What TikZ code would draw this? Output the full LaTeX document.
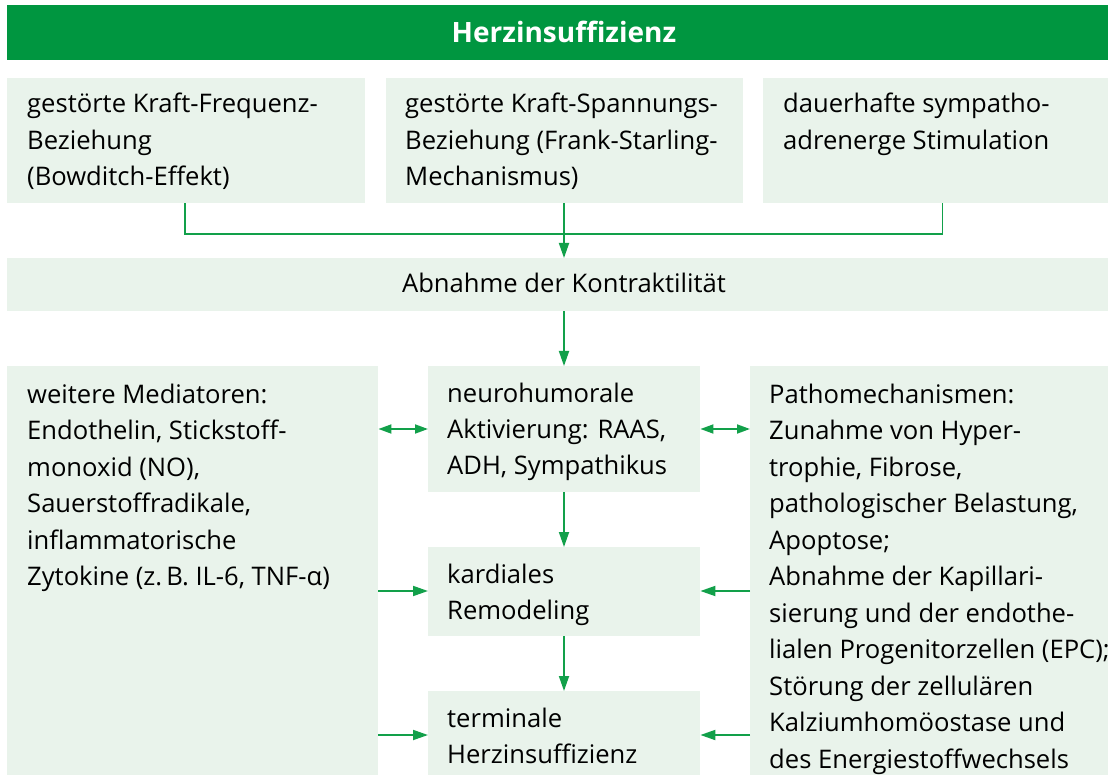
\documentclass[tikz,border=0pt]{standalone}
\usepackage{fontspec}
\setmainfont{Open Sans}
\usetikzlibrary{arrows.meta}
\definecolor{hgreen}{HTML}{009640}
\definecolor{agreen}{HTML}{12A04A}
\definecolor{boxfill}{HTML}{E9F3EB}
\begin{document}
\begin{tikzpicture}[x=1pt,y=-1pt,
  panel/.style={fill=boxfill, draw=none, inner sep=0, anchor=north west},
  txt/.style={anchor=base west, inner sep=0, font=\fontsize{25.6}{36.5}\selectfont},
  link/.style={draw=agreen, line width=1.8pt},
  arr/.style={link, -{Triangle[length=15pt,width=10pt]}},
  darr/.style={link, {Triangle[length=13pt,width=9pt]}-{Triangle[length=13pt,width=9pt]}}]
\useasboundingbox (0,0) rectangle (1108,775);

% title bar
\node[panel, fill=hgreen, minimum width=1101pt, minimum height=55pt] (title) at (7,5) {};
\node[anchor=center, inner sep=0, text=white, font=\fontsize{28}{30}\selectfont\bfseries] (titletxt) at (564,32) {Herzinsuffizienz};

% top row
\node[panel, minimum width=358pt, minimum height=125pt] (b1) at (7,78) {};
\node[panel, minimum width=357pt, minimum height=125pt] (b2) at (386,78) {};
\node[panel, minimum width=345pt, minimum height=125pt] (b3) at (763,78) {};
\node[txt] (t1) at (27,113) {\parbox[t]{340pt}{\raggedright gestörte Kraft-Frequenz-\\Beziehung\\(Bowditch-Effekt)}};
\node[txt] (t2) at (405,113) {\parbox[t]{340pt}{\raggedright gestörte Kraft-Spannungs-\\Beziehung (Frank-Starling-\\Mechanismus)}};
\node[txt] (t3) at (783,113) {\parbox[t]{320pt}{\raggedright dauerhafte sympatho-\\adrenerge Stimulation}};

% contractility
\node[panel, minimum width=1101pt, minimum height=53pt] (ab) at (7,258) {};
\node[anchor=base, inner sep=0, font=\fontsize{25.6}{36.5}\selectfont] (abtxt) at (564,293) {Abnahme der Kontraktilität};

% lower block
\node[panel, minimum width=371pt, minimum height=409pt] (med) at (7,366) {};
\node[panel, minimum width=272pt, minimum height=126pt] (neuro) at (428,366) {};
\node[panel, minimum width=272pt, minimum height=89pt] (remo) at (428,547) {};
\node[panel, minimum width=272pt, minimum height=84pt] (term) at (428,691) {};
\node[panel, minimum width=358pt, minimum height=409pt] (patho) at (750,366) {};

\node[txt] (tmed) at (27,403) {\parbox[t]{350pt}{\raggedright weitere Mediatoren:\\Endothelin, Stickstoff-\\monoxid (NO),\\Sauerstoffradikale,\\inflammatorische\\Zytokine (z.\,B. IL-6, TNF-α)}};
\node[txt] (tneuro) at (447,402) {\parbox[t]{260pt}{\raggedright neurohumorale\\Aktivierung: RAAS,\\ADH, Sympathikus}};
\node[txt] (tremo) at (447,583) {\parbox[t]{260pt}{\raggedright kardiales\\Remodeling}};
\node[txt] (tterm) at (447,727) {\parbox[t]{260pt}{\raggedright terminale\\Herzinsuffizienz}};
\node[txt] (tpatho) at (769,403) {\parbox[t]{345pt}{\raggedright Pathomechanismen:\\Zunahme von Hyper-\\trophie, Fibrose,\\pathologischer Belastung,\\Apoptose;\\Abnahme der Kapillari-\\sierung und der endothe-\\lialen Progenitorzellen (EPC);\\Störung der zellulären\\Kalziumhomöostase und\\des Energiestoffwechsels}};

% connectors
\coordinate (j) at (564,234);
\draw[link] (b1.south west) ++(178,0) |- (j) -| ([xshift=-166pt]b3.south east);
\draw[arr] (b2.south west) ++(178,0) -- (ab.north west -| j);
\draw[arr] (ab.south west -| j) -- (neuro.north west -| j);
\draw[arr] (neuro.south west -| j) -- (remo.north west -| j);
\draw[arr] (remo.south west -| j) -- (term.north west -| j);

\draw[darr] (med.east |- 0,429) -- (neuro.west |- 0,429);
\draw[darr] (neuro.east |- 0,429) -- (patho.west |- 0,429);
\draw[arr] (med.east |- 0,591) -- (remo.west |- 0,591);
\draw[arr] (patho.west |- 0,591) -- (remo.east |- 0,591);
\draw[arr] (med.east |- 0,735) -- (term.west |- 0,735);
\draw[arr] (patho.west |- 0,735) -- (term.east |- 0,735);
\end{tikzpicture}
\end{document}
